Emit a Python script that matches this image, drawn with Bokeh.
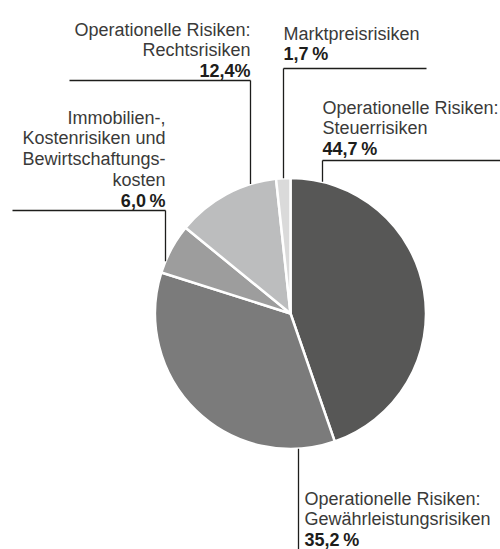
import math
from bokeh.plotting import figure
from bokeh.models import Range1d, ColumnDataSource
from bokeh.core.properties import value
from bokeh.embed import file_html
from bokeh.resources import INLINE

# ---- data ----
categories = [
    "Operationelle Risiken:\nSteuerrisiken",
    "Operationelle Risiken:\nGewährleistungsrisiken",
    "Immobilien-,\nKostenrisiken und\nBewirtschaftungs-\nkosten",
    "Operationelle Risiken:\nRechtsrisiken",
    "Marktpreisrisiken",
]
shares = [44.7, 35.2, 6.0, 12.4, 1.7]
value_labels = ["44,7\u2009%", "35,2\u2009%", "6,0\u2009%", "12,4%", "1,7\u2009%"]
colors = ["#575756", "#7b7b7b", "#9d9d9d", "#bcbdbe", "#dadada"]

# ---- layout (screen px of the 500x549 page) ----
W, H = 500, 549
CX, CY, R = 290, 313, 135.5
LH = 20.8
FONT = value("Liberation Sans")
FS = "18px"
TXT = "#1d1d1b"
TXT_LIGHT = "#3a3a39"
# text x, first baseline, align, leader x, leader outer y, horizontal x0, x1
label_layout = [
    (322, 107, "left", 322, 160, 322, 500),
    (304, 498, "left", 298, 549, None, None),
    (165, 117, "right", 165, 210, 12, 165),
    (250, 29, "right", 250, 80, 69, 250),
    (283, 33, "left", 283, 68, 283, 426),
]

def sy(y):
    return H - y

p = figure(width=W, height=H, output_backend="svg", toolbar_location=None,
           x_range=Range1d(0, W), y_range=Range1d(0, H),
           min_border=0, outline_line_color=None)
p.axis.visible = False
p.grid.visible = False
p.background_fill_color = "white"
p.border_fill_color = "white"

# pie
total = sum(shares)
starts, ends = [], []
cum = 0.0
for s in shares:
    starts.append(math.pi / 2 - 2 * math.pi * cum / total)
    cum += s
    ends.append(math.pi / 2 - 2 * math.pi * cum / total)
src = ColumnDataSource(dict(start=starts, end=ends, color=colors))
p.wedge(x=CX, y=sy(CY), radius=R, start_angle="start", end_angle="end",
        direction="clock", fill_color="color", line_color="white",
        line_width=2.5, source=src)

# leaders
xs, ys = [], []
for (tx, ty, al, lx, lyo, hx0, hx1) in label_layout:
    dy = math.sqrt(max(R * R - (lx - CX) ** 2, 0))
    inner = CY - dy if lyo < CY else CY + dy
    xs.append([lx, lx]); ys.append([sy(lyo), sy(inner)])
    if hx0 is not None:
        xs.append([hx0, hx1]); ys.append([sy(lyo), sy(lyo)])
p.multi_line(xs=xs, ys=ys, line_color=TXT, line_width=1.3)

# labels
nx, ny, nt, na = [], [], [], []
bx, by, bt, ba = [], [], [], []
for cat, vl, (tx, ty, al, *_rest) in zip(categories, value_labels, label_layout):
    lines = cat.split("\n")
    for i, ln in enumerate(lines):
        nx.append(tx); ny.append(sy(ty + i * LH)); nt.append(ln); na.append(al)
    bx.append(tx); by.append(sy(ty + len(lines) * LH)); bt.append(vl); ba.append(al)

p.text(x="x", y="y", text="t", text_align="a", source=ColumnDataSource(dict(x=nx, y=ny, t=nt, a=na)),
       text_baseline="alphabetic", text_font=FONT, text_font_size=FS, text_color=TXT_LIGHT)
p.text(x="x", y="y", text="t", text_align="a", source=ColumnDataSource(dict(x=bx, y=by, t=bt, a=ba)),
       text_baseline="alphabetic", text_font=FONT, text_font_size=FS, text_color=TXT,
       text_font_style="bold")

open("out.html", "w").write(file_html(p, INLINE))
